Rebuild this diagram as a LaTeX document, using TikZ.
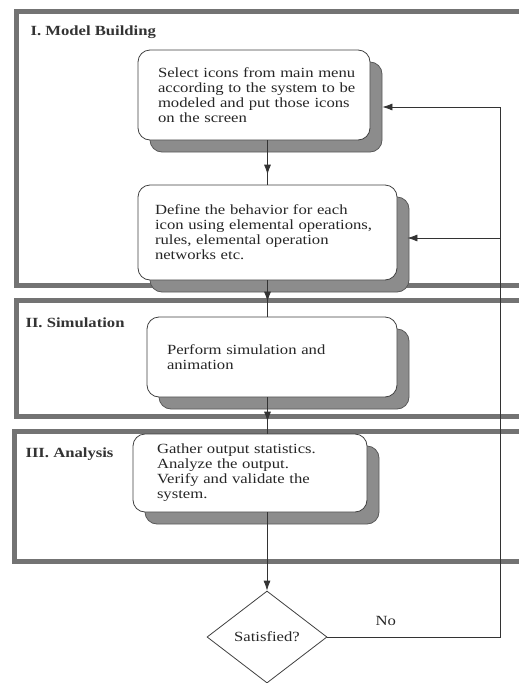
\documentclass[tikz,border=0pt]{standalone}
\usepackage{fontspec}
\setmainfont{Liberation Serif}[FakeStretch=1.19]
\usetikzlibrary{arrows.meta,shapes.geometric,shadows}
\newcommand{\tline}[1]{\mbox{#1}}
\begin{document}
\begin{tikzpicture}[x=1pt,y=1pt,
  txt/.style={font=\fontsize{14}{15}\selectfont\rmfamily, text=black!85},
  panel/.style={draw=black!55, line width=5pt},
  phase/.style={anchor=base west, font=\fontsize{14}{15}\selectfont\rmfamily\bfseries, text=black!80},
  stepbox/.style={txt, draw=black!75, line width=0.8pt, fill=white, rounded corners=12pt,
    align=left, inner ysep=0pt,
    drop shadow={shadow xshift=12pt, shadow yshift=-12pt, fill=black!45,
      draw=black!65, opacity=1}},
  link/.style={draw=black!80, line width=0.8pt},
  tip/.style={link, -{Latex[length=10pt,width=7pt]}},
  decision/.style={txt, diamond, draw=black!75, line width=0.8pt, fill=white,
    minimum width=120pt, minimum height=92pt, inner sep=0pt}
]
\useasboundingbox (0,-683) rectangle (519,0);
\clip (0,-683) rectangle (519,0);

% phase frames (open to the right)
\draw[panel] (16,-11) rectangle (560,-285);
\draw[panel] (16,-300) rectangle (560,-416);
\draw[panel] (14,-431) rectangle (560,-561);

\node[phase] (p1) at (27,-35) {I. Model Building};
\node[phase] (p2) at (22,-327) {II. Simulation};
\node[phase] (p3) at (22,-457) {III. Analysis};

% process steps
\node[stepbox, inner xsep=20pt, text width=192pt, minimum width=232pt, minimum height=90pt]
  (b1) at (254,-95)
  {\tline{Select icons from main menu}\\ \tline{according to the system to be}\\
   \tline{modeled and put those icons}\\ \tline{on the screen}};
\node[stepbox, inner xsep=17pt, text width=225pt, minimum width=259pt, minimum height=95pt]
  (b2) at (267.5,-232.5)
  {\tline{Define the behavior for each}\\ \tline{icon using elemental operations,}\\
   \tline{rules, elemental operation}\\ \tline{networks etc.}};
\node[stepbox, inner xsep=20pt, text width=210pt, minimum width=250pt, minimum height=80pt]
  (b3) at (272,-357)
  {\tline{Perform simulation and}\\ \tline{animation}};
\node[stepbox, inner xsep=24pt, text width=186pt, minimum width=234pt, minimum height=78pt]
  (b4) at (250,-473)
  {\tline{Gather output statistics.}\\ \tline{Analyze the output.}\\
   \tline{Verify and validate the}\\ \tline{system.}};

\node[decision] (d) at (267,-637) {Satisfied?};

% main flow: each connector carries its arrowhead a little above its end
\draw[link] (b2.north |- b1.south) -- (b2.north);
\draw[tip] (b2.north |- b1.south) -- ([yshift=10pt]b2.north);
\draw[link] (b2.south) -- (b2.south |- b3.north);
\draw[tip] (b2.south) -- ([yshift=15pt]b2.south |- b3.north);
\draw[link] (b2.south |- b3.south) -- (b2.south |- b4.north);
\draw[tip] (b2.south |- b3.south) -- ([yshift=12pt]b2.south |- b4.north);
\draw[tip] (d.north |- b4.south) -- (d.north);

% return path from the decision
\coordinate (rail) at (500,-107);
\coordinate (tap) at (500,-238);
\draw[link] (d.east) -- (d.east -| rail) -- (rail);
\draw[tip, shorten >=12pt] (rail) -- (rail -| b1.east);
\draw[tip, shorten >=10pt] (tap) -- (tap -| b2.east);
\node[txt, anchor=base west] (no) at (372,-625) {No};
\end{tikzpicture}
\end{document}
